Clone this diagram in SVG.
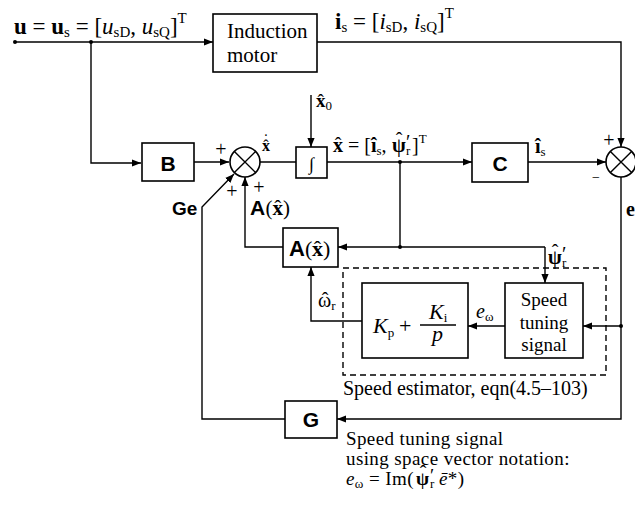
<svg xmlns="http://www.w3.org/2000/svg" width="635" height="513" viewBox="0 0 635 513">
<defs>
<marker id="ah" viewBox="0 0 10 10" refX="10" refY="5" markerWidth="9" markerHeight="9" markerUnits="userSpaceOnUse" orient="auto">
<path d="M0,1 L10,5 L0,9 z" fill="#000"/>
</marker>
</defs>
<style>
.bx{fill:#fff;stroke:#000;stroke-width:1.6}
.ln{fill:none;stroke:#000;stroke-width:1.4}
.ar{fill:none;stroke:#000;stroke-width:1.4;marker-end:url(#ah)}
.t{font-family:"Liberation Serif","DejaVu Serif",serif;font-size:20px;fill:#000}
.b{font-family:"Liberation Sans","DejaVu Sans",sans-serif;font-weight:bold;font-size:21px;fill:#000}
.h{font-family:"Liberation Serif","DejaVu Serif",serif;font-size:20px;fill:#000;text-anchor:middle}
.vb{font-weight:bold}
.it{font-style:italic}
.sub{font-size:13px;font-weight:normal;font-style:normal}
.big{font-size:23px}
.big .sub{font-size:15px}
.note{font-size:19px;letter-spacing:0.4px}
.sg{font-family:"Liberation Serif","DejaVu Serif",serif;font-size:20px;fill:#000;text-anchor:middle}
.dot{fill:#000}
</style>
<rect width="635" height="513" fill="#fff"/>

<g id="connectors">
<circle class="dot" cx="15" cy="42" r="2"/>
<path class="ar" d="M15,42 H213"/>
<circle class="dot" cx="91" cy="42" r="2"/>
<path class="ar" d="M91,42 V163 H141"/>
<path class="ar" d="M317,42 H621 V147"/>
<path class="ar" d="M194,162 H229"/>
<path class="ln" d="M260,162 H296"/>
<path class="ar" d="M311,95 V147"/>
<path class="ar" d="M327,162 H472"/>
<circle class="dot" cx="400" cy="162" r="2"/>
<path class="ar" d="M528,162 H606"/>
<path class="ln" d="M400,162 V247"/>
<circle class="dot" cx="400" cy="247" r="2"/>
<path class="ar" d="M545,247 H338"/>
<path class="ar" d="M545,247 V283"/>
<path class="ar" d="M283,247 H245 V177"/>
<path class="ar" d="M285,419 H202 V207 L234,174"/>
<path class="ar" d="M621,177 V419 H337"/>
<circle class="dot" cx="621" cy="326" r="2"/>
<path class="ar" d="M621,326 H583"/>
<path class="ar" d="M505,326 H468"/>
<path class="ar" d="M362,321 H311 V267"/>
</g>

<g id="motor">
<rect class="bx" x="213" y="14" width="104" height="58"/>
<text class="t" x="227" y="38" style="font-size:21px">Induction</text>
<text class="t" x="227" y="62" style="font-size:21px">motor</text>
</g>

<g id="B">
<rect class="bx" x="142" y="143" width="52" height="38"/>
<text class="b" x="168" y="171" text-anchor="middle">B</text>
</g>

<g id="sum1">
<circle class="bx" cx="245" cy="162" r="15"/>
<path class="ln" d="M234.4,151.4 L255.6,172.6 M255.6,151.4 L234.4,172.6"/>
</g>

<g id="integrator">
<rect class="bx" x="296" y="147" width="31" height="31"/>
<text class="t" x="311.5" y="170" text-anchor="middle" style="font-size:18px">∫</text>
</g>

<g id="C">
<rect class="bx" x="472" y="143" width="56" height="39"/>
<text class="b" x="500" y="171" text-anchor="middle">C</text>
</g>

<g id="sum2">
<circle class="bx" cx="621" cy="162" r="15"/>
<path class="ln" d="M610.4,151.4 L631.6,172.6 M631.6,151.4 L610.4,172.6"/>
</g>

<g id="A">
<rect class="bx" x="283" y="228" width="55" height="39"/>
<text class="b" x="289" y="256" style="font-size:22px">A</text>
<text class="t" y="256" style="font-size:22px"><tspan x="305">(</tspan><tspan x="312" class="vb">x</tspan><tspan x="323">)</tspan></text>
<text class="h" x="317.5" y="256" style="font-size:22px">ˆ</text>
</g>

<g id="estimator">
<rect x="343" y="268" width="263" height="107" fill="none" stroke="#000" stroke-width="1.4" stroke-dasharray="6,4"/>
</g>

<g id="PI">
<rect class="bx" x="362" y="283" width="106" height="75"/>
<text class="t it" x="373" y="333" style="font-size:22px">K<tspan class="sub" dy="4">p</tspan></text>
<text class="t" x="399" y="333" style="font-size:22px">+</text>
<text class="t it" x="429" y="319" style="font-size:22px">K<tspan class="sub" dy="3">i</tspan></text>
<line x1="420" y1="325" x2="456" y2="325" stroke="#000" stroke-width="1.3"/>
<text class="t it" x="432" y="341" style="font-size:22px">p</text>
</g>

<g id="tuning">
<rect class="bx" x="505" y="283" width="78" height="75"/>
<text class="t" x="544" y="306" text-anchor="middle" style="font-size:19px">Speed</text>
<text class="t" x="544" y="329" text-anchor="middle" style="font-size:19px">tuning</text>
<text class="t" x="544" y="351" text-anchor="middle" style="font-size:19px">signal</text>
</g>

<g id="G">
<rect class="bx" x="285" y="401" width="52" height="37"/>
<text class="b" x="311" y="427" text-anchor="middle">G</text>
</g>

<g id="labels">
<text class="t big" x="14" y="34"><tspan class="vb">u</tspan> = <tspan class="vb">u</tspan><tspan class="sub" dy="3">s</tspan><tspan dy="-3"> = [</tspan><tspan class="it">u</tspan><tspan class="sub" dy="3">sD</tspan><tspan dy="-3">, </tspan><tspan class="it">u</tspan><tspan class="sub" dy="3">sQ</tspan><tspan dy="-3">]</tspan><tspan class="sub" dy="-11">T</tspan></text>
<text class="t big" x="335" y="29"><tspan class="vb">i</tspan><tspan class="sub" dy="3">s</tspan><tspan dy="-3"> = [</tspan><tspan class="it">i</tspan><tspan class="sub" dy="3">sD</tspan><tspan dy="-3">, </tspan><tspan class="it">i</tspan><tspan class="sub" dy="3">sQ</tspan><tspan dy="-3">]</tspan><tspan class="sub" dy="-11">T</tspan></text>

<text class="sg" x="221" y="156">+</text>
<text class="t vb" x="262" y="151" style="font-size:16px">x</text>
<text class="h" x="266" y="151" style="font-size:16px">ˆ</text>
<text class="h" x="266" y="145" style="font-size:16px">˙</text>

<text class="t vb" x="316" y="107" style="font-size:19px">x<tspan class="sub" dy="3">0</tspan></text>
<text class="h" x="320.7" y="107" style="font-size:19px">ˆ</text>

<text class="t" y="152"><tspan class="vb" x="333">x</tspan><tspan x="343"> = [</tspan><tspan class="vb">î</tspan><tspan class="sub" dy="3">s</tspan><tspan dy="-3">, </tspan><tspan class="vb" x="392">ψ</tspan><tspan x="406" dy="-3">′</tspan><tspan class="sub" x="406" dy="6">r</tspan><tspan x="412" dy="-3">]</tspan><tspan class="sub" dy="-9">T</tspan></text>
<text class="h" x="338" y="152">ˆ</text>
<text class="h" x="399" y="147">ˆ</text>

<text class="t vb" x="535" y="153">î<tspan class="sub" dy="3">s</tspan></text>
<text class="sg" x="609" y="147">+</text>
<text class="sg" x="596" y="182" style="font-size:14px">−</text>
<text class="t vb" x="626" y="216">e</text>
<text class="sg" x="232" y="198">+</text>
<text class="sg" x="259" y="194">+</text>

<text class="b" x="250" y="215">A</text>
<text class="t" y="215" style="font-size:21px"><tspan x="265.5">(</tspan><tspan x="272.5" class="vb">x</tspan><tspan x="283">)</tspan></text>
<text class="h" x="277.7" y="215" style="font-size:21px">ˆ</text>

<text class="b" x="172" y="215" style="font-size:19px">Ge</text>

<text class="t vb" y="264"><tspan x="548">ψ</tspan><tspan x="562" dy="-3" font-weight="normal">′</tspan><tspan class="sub" x="562" dy="6">r</tspan></text>
<text class="h" x="555" y="259">ˆ</text>

<text class="t" y="307"><tspan x="318">ω</tspan><tspan class="sub" dy="3">r</tspan></text>
<text class="h" x="325" y="307">ˆ</text>

<text class="t it" x="476" y="318">e<tspan class="sub" dy="3">ω</tspan></text>

<text class="t" x="343" y="395">Speed estimator, eqn(4.5–103)</text>
<text class="t note" x="346" y="445">Speed tuning signal</text>
<text class="t note" x="346" y="465">using space vector notation:</text>
<text class="t note" y="485"><tspan class="it" x="346">e</tspan><tspan class="sub" dy="3">ω</tspan><tspan dy="-3"> = Im(</tspan><tspan x="416" class="vb">ψ</tspan><tspan x="430" dy="-3">′</tspan><tspan class="sub" x="430" dy="6">r</tspan><tspan x="439" dy="-3" class="it">ē</tspan><tspan>*)</tspan></text>
<text class="h" x="423" y="480">ˆ</text>
</g>
</svg>
